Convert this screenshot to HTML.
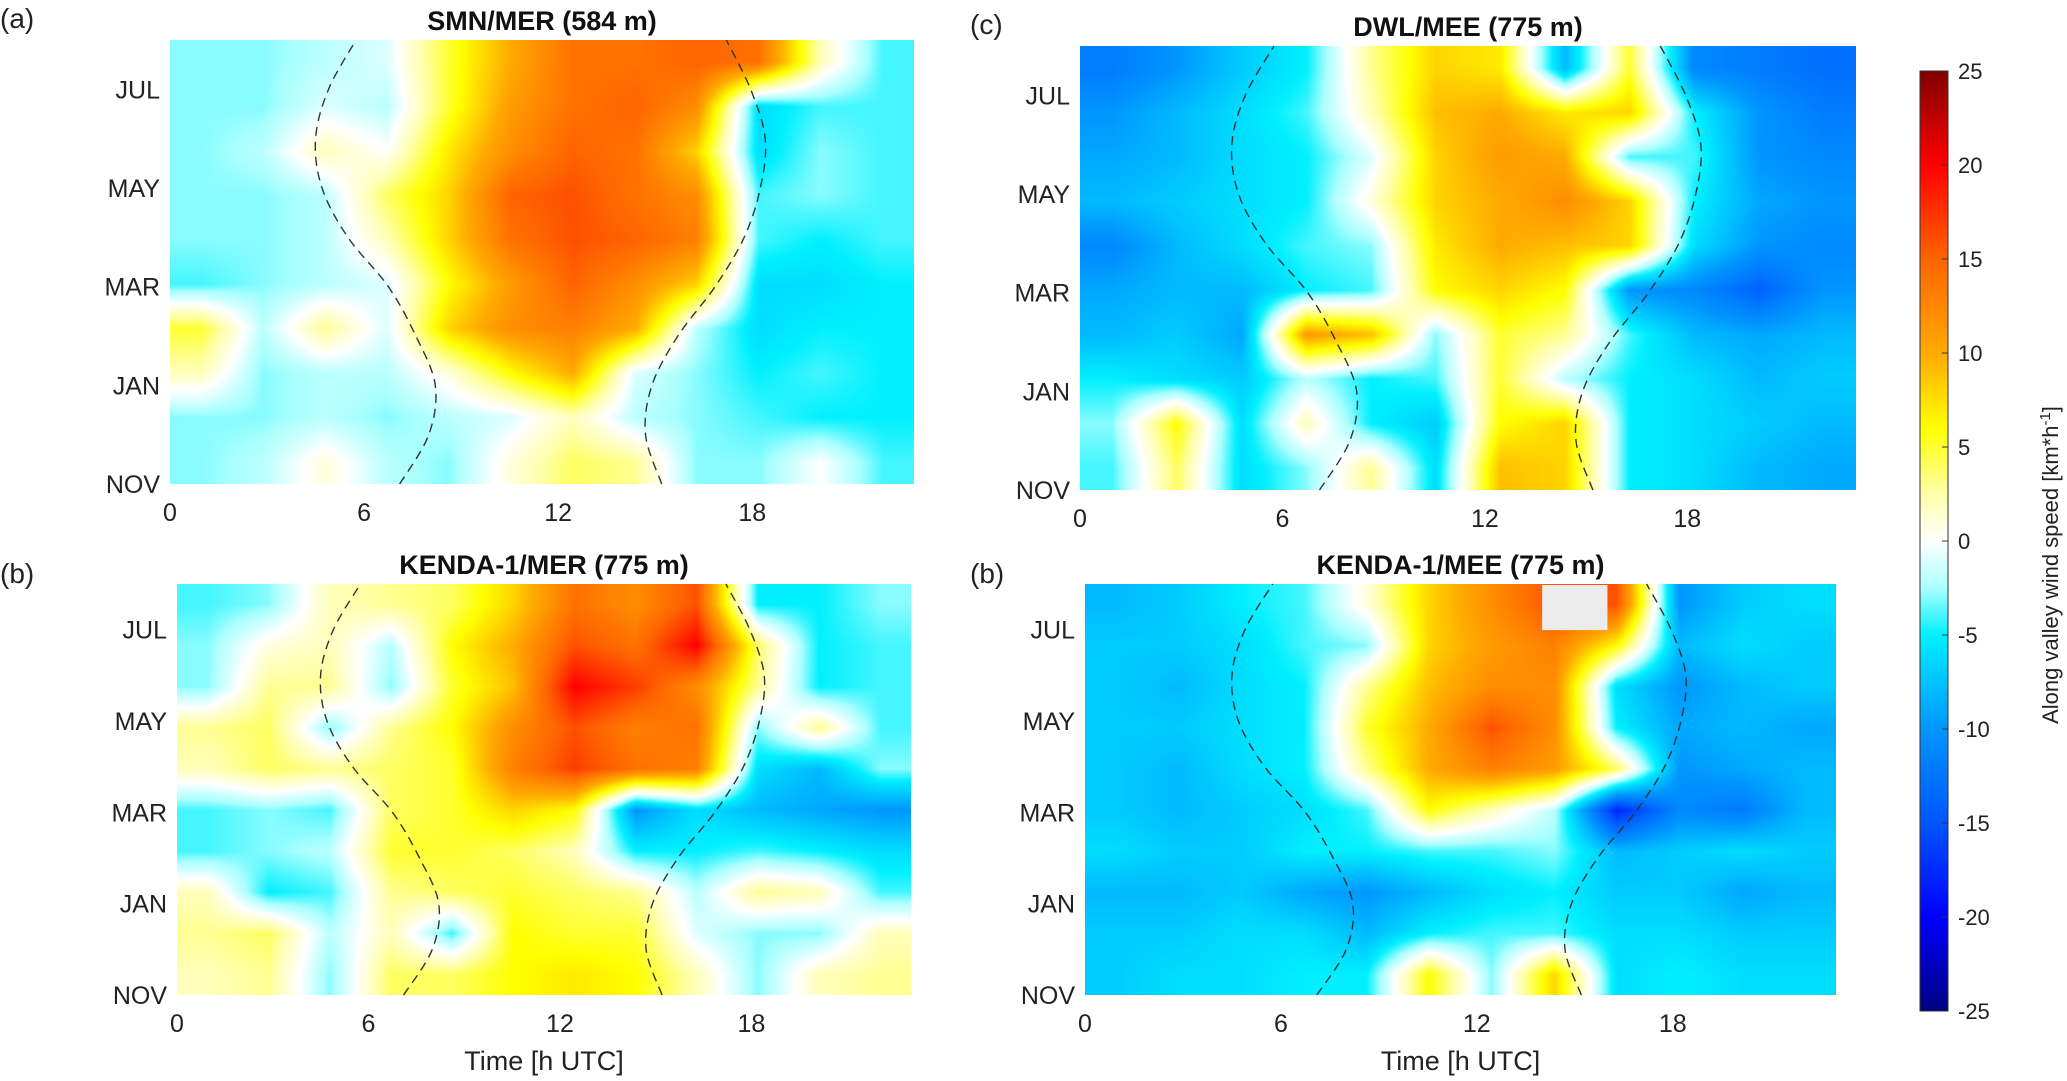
<!DOCTYPE html>
<html><head><meta charset="utf-8">
<style>
html,body{margin:0;padding:0;background:#fff;}
body{width:2067px;height:1081px;position:relative;overflow:hidden;font-family:"Liberation Sans",Arial,sans-serif;}
</style></head>
<body>
<svg id="fig" width="2067" height="1081" viewBox="0 0 2067 1081" xmlns="http://www.w3.org/2000/svg" style="position:absolute;left:0;top:0">
  <defs>
    <linearGradient id="cbgrad" x1="0" y1="1" x2="0" y2="0">
      <stop offset="0" stop-color="rgb(0,0,128)"/>
      <stop offset="0.1" stop-color="rgb(0,0,255)"/>
      <stop offset="0.2" stop-color="rgb(0,85,255)"/>
      <stop offset="0.3" stop-color="rgb(0,150,255)"/>
      <stop offset="0.4" stop-color="rgb(0,240,255)"/>
      <stop offset="0.45" stop-color="rgb(170,255,255)"/>
      <stop offset="0.5" stop-color="rgb(255,255,255)"/>
      <stop offset="0.55" stop-color="rgb(255,255,170)"/>
      <stop offset="0.62" stop-color="rgb(255,255,0)"/>
      <stop offset="0.7" stop-color="rgb(255,170,0)"/>
      <stop offset="0.8" stop-color="rgb(255,100,0)"/>
      <stop offset="0.9" stop-color="rgb(255,0,0)"/>
      <stop offset="1" stop-color="rgb(128,0,0)"/>
    </linearGradient>
  </defs>
  <g id="panels"></g>
  <g>
    <rect x="1920" y="71" width="28" height="940" fill="url(#cbgrad)" stroke="#333" stroke-width="1"/>
    <g id="cbticks"></g>
    <text transform="translate(2058,565) rotate(-90)" text-anchor="middle" font-size="22" fill="#222">Along valley wind speed [km*h<tspan baseline-shift="super" font-size="15">-1</tspan>]</text>
  </g>
</svg>
<div id="canvases"></div>
<script>
// ---- Data (rows top->bottom: AUG..NOV; columns: 2-hourly bins 0..23 h UTC) ----
const monthLabels = ["NOV","JAN","MAR","MAY","JUL"];
const monthTickIndex = [0,2,4,6,8];
const hourTicks = [0,6,12,18];
const cbTicks = [25,20,15,10,5,0,-5,-10,-15,-20,-25];
const sunriseHours = [7.1,8.0,8.2,7.6,6.75,5.5,4.7,4.5,4.9,5.75];
const sunsetHours = [15.2,14.7,14.9,15.7,16.85,17.75,18.25,18.4,17.95,17.2];
const missingHours = [14,16];

const gridSMN = [
[-3,-3,-2,-1,5,10,14,14,15,14,2,-4],
[-3,-3,-1,-2,5,11,14,15,12,-6,-4,-4],
[-3,-2,2,0,7,12,15,14,8,-6,-3,-4],
[-3,-3,-2,4,8,15,16,14,12,-4,-3,-4],
[-3,-3,-2,2,8,14,16,15,13,-4,-5,-4],
[-4,-3,-2,-1,6,11,15,12,8,-6,-6,-5],
[5,-2,3,-1,8,12,13,10,-2,-6,-5,-5],
[2,-3,-2,-2,1,6,10,-1,-3,-5,-4,-5],
[-3,-3,-2,-3,-2,-1,2,-2,-3,-4,-5,-5],
[-3,-2,1,-2,-3,1,4,3,-3,-3,0,-4]];
const gridDWL = [
[-12,-10,-7,-5,3,8,7,-8,5,-11,-12,-13],
[-10,-8,-6,-4,2,9,10,7,8,-5,-10,-12],
[-9,-8,-6,-5,-1,8,11,10,-4,-4,-10,-11],
[-8,-7,-6,-5,1,8,10,12,8,-5,-9,-10],
[-11,-8,-6,-4,-3,7,10,9,8,-6,-10,-11],
[-9,-8,-8,-5,-4,6,8,6,-10,-11,-14,-10],
[-8,-7,-9,11,9,-3,5,3,-4,-8,-9,-8],
[-5,-6,-7,-2,-5,-4,5,-2,-5,-6,-8,-7],
[-3,6,-6,2,-5,-7,6,8,-5,-6,-7,-8],
[-4,4,-6,-3,3,-6,9,8,-5,-6,-8,-9]];
const gridKMER = [
[-4,-3,2,3,4,8,14,12,16,-5,-5,-3],
[-3,1,2,-2,6,10,16,14,20,4,-5,-4],
[-3,3,3,-3,5,9,20,17,12,3,-5,-4],
[3,4,-3,3,6,12,16,13,14,-3,3,-4],
[2,4,3,4,5,13,17,14,13,-6,-8,-3],
[-4,-3,-4,4,5,8,6,-10,-6,-8,-9,-10],
[-4,-3,-2,5,5,4,2,-5,-5,-4,-5,-6],
[2,-5,-4,3,4,5,4,3,-2,3,2,-4],
[3,4,-2,2,-4,6,5,5,-1,-3,-3,2],
[2,3,-3,4,4,6,7,6,2,-3,2,3]];
const gridKMEE = [
[-8,-7,-5,-4,1,8,12,16,null,-10,-7,-6],
[-7,-7,-6,-4,-3,8,11,13,6,-8,-6,-7],
[-7,-8,-6,-5,3,9,12,12,-6,-10,-8,-7],
[-7,-7,-6,-5,5,10,16,12,-5,-9,-8,-9],
[-7,-8,-6,-5,3,10,13,11,4,-10,-9,-8],
[-7,-8,-7,-6,-4,6,2,-2,-18,-11,-12,-8],
[-6,-7,-7,-5,-5,-4,-4,-3,-8,-7,-6,-7],
[-8,-8,-7,-9,-10,-8,-6,-5,-7,-7,-9,-8],
[-7,-7,-6,-6,-8,-5,-4,-4,-6,-6,-7,-7],
[-7,-6,-6,-5,-5,6,-3,8,-6,-5,-6,-6]];

const panels = [
 {name:"smn-mer", title:"SMN/MER (584 m)", letter:"(a)", lx:0, ly:28, grid:gridSMN, x0:170, x1:914, y0:40, y1:484, xlabel:false},
 {name:"dwl-mee", title:"DWL/MEE (775 m)", letter:"(c)", lx:970, ly:34, grid:gridDWL, x0:1080, x1:1856, y0:46, y1:490, xlabel:false},
 {name:"kenda-mer", title:"KENDA-1/MER (775 m)", letter:"(b)", lx:0, ly:583, grid:gridKMER, x0:177, x1:911, y0:584, y1:995, xlabel:true},
 {name:"kenda-mee", title:"KENDA-1/MEE (775 m)", letter:"(b)", lx:970, ly:583, grid:gridKMEE, x0:1085, x1:1836, y0:584, y1:995, xlabel:true}
];

const cmStops = [[-25,0,0,128],[-20,0,0,255],[-15,0,85,255],[-10,0,150,255],[-5,0,240,255],[-2.5,170,255,255],[0,255,255,255],[2.5,255,255,170],[6,255,255,0],[10,255,170,0],[15,255,100,0],[20,255,0,0],[25,128,0,0]];
function cmap(v){
  if(v<=cmStops[0][0]) return cmStops[0].slice(1);
  for(let i=1;i<cmStops.length;i++){
    if(v<=cmStops[i][0]){
      const a=cmStops[i-1],b=cmStops[i],t=(v-a[0])/(b[0]-a[0]);
      return [a[1]+(b[1]-a[1])*t,a[2]+(b[2]-a[2])*t,a[3]+(b[3]-a[3])*t];
    }
  }
  return cmStops[cmStops.length-1].slice(1);
}
const NS="http://www.w3.org/2000/svg";
const gP=document.getElementById('panels');
function el(tag,attrs,parent){const e=document.createElementNS(NS,tag);for(const k in attrs)e.setAttribute(k,attrs[k]);parent.appendChild(e);return e;}

const HMAX=23, MMAX=9;
panels.forEach(p=>{
  const W=p.x1-p.x0,H=p.y1-p.y0;
  const xs=h=>p.x0+h/HMAX*W;
  const ys=m=>p.y1-m/MMAX*H;
  const rows=p.grid.length, cols=p.grid[0].length;
  const g=p.grid.map(r=>r.map((v,ci)=>v===null?(ci>0&&r[ci-1]!==null?r[ci-1]:0):v));
  const cv=document.createElement('canvas');
  cv.width=W;cv.height=H;
  cv.style.position='absolute';cv.style.left=p.x0+'px';cv.style.top=p.y0+'px';
  
  
  document.getElementById('canvases').appendChild(cv);
  const ctx=cv.getContext('2d');const img=ctx.createImageData(W,H);
  for(let y=0;y<H;y++){
    let fy=(y+0.5)/H*rows-0.5; fy=Math.max(0,Math.min(rows-1,fy));
    const r0=Math.floor(fy),r1=Math.min(rows-1,r0+1),ty=fy-r0;
    for(let x=0;x<W;x++){
      let fx=(x+0.5)/W*cols-0.5; fx=Math.max(0,Math.min(cols-1,fx));
      const c0=Math.floor(fx),c1=Math.min(cols-1,c0+1),tx=fx-c0;
      const v=(g[r0][c0]*(1-tx)+g[r0][c1]*tx)*(1-ty)+(g[r1][c0]*(1-tx)+g[r1][c1]*tx)*ty;
      const c=cmap(v);const i=(y*W+x)*4;
      img.data[i]=c[0];img.data[i+1]=c[1];img.data[i+2]=c[2];img.data[i+3]=255;
    }
  }
  ctx.putImageData(img,0,0);
  const hasNull=p.grid.some(r=>r.some(v=>v===null));

  const grp=el('g',{},gP);
  
  
  if(hasNull){
    const nb=el('rect',{x:xs(missingHours[0]),y:p.y0+1,width:xs(missingHours[1])-xs(missingHours[0]),height:H/rows+4,fill:'#ececec'},grp);
    
    
  }
  const t=el('text',{x:(p.x0+p.x1)/2,y:p.y0-10,'text-anchor':'middle','font-size':27,'font-weight':'bold',fill:'#111'},grp);
  t.textContent=p.title;
  
  
  const lt=el('text',{x:p.lx,y:p.ly,'font-size':28,fill:'#222'},grp);
  lt.textContent=p.letter;
  
  
  monthTickIndex.forEach((m,i)=>{
    const tt=el('text',{x:p.x0-10,y:ys(m)+9,'text-anchor':'end','font-size':25,fill:'#222'},grp);
    tt.textContent=monthLabels[i];
    
    
  });
  hourTicks.forEach(h=>{
    const tt=el('text',{x:xs(h),y:p.y1+37,'text-anchor':'middle','font-size':25,fill:'#222'},grp);
    tt.textContent=h;
    
    
  });
  if(p.xlabel){
    const xl=el('text',{x:(p.x0+p.x1)/2,y:1070,'text-anchor':'middle','font-size':27,fill:'#222'},grp);
    xl.textContent='Time [h UTC]';
    
    
  }
  [sunriseHours,sunsetHours].forEach((arr,k)=>{
    const pts=arr.map((h,m)=>[xs(h),ys(m)]);
    let d='M'+pts[0][0]+','+pts[0][1];
    for(let i=0;i<pts.length-1;i++){
      const p0=pts[Math.max(0,i-1)],p1=pts[i],p2=pts[i+1],p3=pts[Math.min(pts.length-1,i+2)];
      const c1=[p1[0]+(p2[0]-p0[0])/6,p1[1]+(p2[1]-p0[1])/6];
      const c2=[p2[0]-(p3[0]-p1[0])/6,p2[1]-(p3[1]-p1[1])/6];
      d+=' C'+c1[0]+','+c1[1]+' '+c2[0]+','+c2[1]+' '+p2[0]+','+p2[1];
    }
    const path=el('path',{d:d,fill:'none',stroke:'#333','stroke-width':1.4,'stroke-dasharray':'9,6'},grp);
    
    
  });
});
document.body.appendChild(document.getElementById('fig'));
const cbG=document.getElementById('cbticks');
cbTicks.forEach(v=>{
  const y=71+(25-v)/50*940;
  el('line',{x1:1942,x2:1948,y1:y,y2:y,stroke:'#333','stroke-width':1},cbG);
  const tt=el('text',{x:1958,y:y+8,'font-size':22,fill:'#222'},cbG);
  tt.textContent=v;
  
  
});
</script>
</body></html>
